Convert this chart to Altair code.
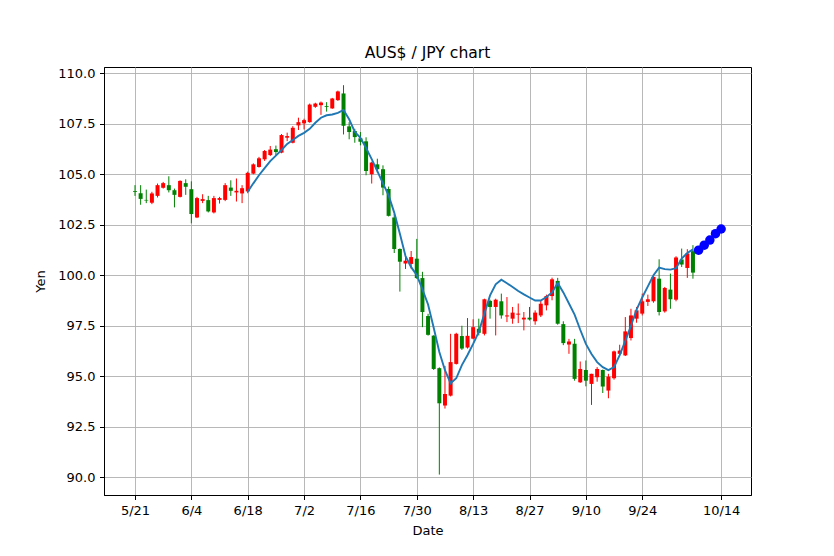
import altair as alt
import pandas as pd

# ---- data ----
opens = [104.16, 104.06, 103.73, 103.59, 103.93, 104.33, 104.46, 104.21, 103.88, 104.56,
         104.26, 102.86, 103.68, 103.72, 103.11, 103.73, 103.73, 104.34, 104.10, 104.05,
         104.15, 105.03, 105.36, 105.74, 105.95, 106.24, 106.07, 106.81, 106.56, 107.42,
         107.52, 107.58, 108.34, 108.42, 108.37, 108.26, 108.67, 109.00, 107.37, 107.14,
         106.78, 106.63, 105.00, 105.49, 105.25, 104.27, 102.86, 101.30, 100.58, 100.56,
         100.82, 99.86, 97.98, 97.01, 95.40, 93.55, 94.04, 95.61, 96.99, 96.42,
         96.86, 97.35, 97.10, 98.73, 98.43, 98.71, 97.96, 97.85, 98.05, 97.81,
         97.90, 97.72, 98.01, 98.51, 98.97, 99.72, 97.58, 96.57, 96.61, 94.70,
         95.31, 94.62, 94.95, 95.31, 94.29, 94.90, 96.11, 96.03, 96.89, 97.85,
         98.10, 98.68, 98.71, 99.83, 98.21, 99.29, 98.79, 100.78, 100.36, 101.19]
highs = [104.46, 104.46, 104.24, 104.13, 104.54, 104.62, 104.90, 104.29, 104.70, 104.75,
         104.65, 103.88, 104.01, 103.93, 103.93, 103.88, 104.56, 104.70, 104.79, 104.46,
         105.13, 105.54, 105.86, 106.20, 106.40, 106.42, 106.99, 107.06, 107.38, 107.80,
         107.75, 108.50, 108.54, 108.60, 108.57, 108.78, 109.14, 109.41, 107.58, 107.25,
         107.09, 106.83, 105.62, 105.77, 105.44, 104.39, 103.03, 101.33, 100.97, 101.20,
         101.80, 100.17, 98.09, 97.03, 95.44, 95.51, 97.10, 97.15, 97.50, 97.88,
         97.82, 97.85, 98.84, 98.79, 98.84, 99.09, 98.92, 98.43, 98.60, 98.18,
         98.43, 98.26, 98.76, 99.04, 99.88, 99.87, 97.72, 96.85, 96.85, 95.73,
         95.78, 95.12, 95.45, 95.33, 95.12, 96.27, 96.56, 97.93, 98.34, 98.43,
         99.09, 99.04, 100.03, 100.79, 99.42, 100.08, 100.94, 101.32, 101.29, 101.49]
lows = [103.93, 103.49, 103.57, 103.52, 103.85, 104.29, 104.10, 103.36, 103.85, 103.98,
        102.57, 102.83, 103.57, 103.11, 103.06, 103.55, 103.67, 103.93, 103.65, 103.57,
        104.06, 105.00, 105.33, 105.66, 105.90, 105.92, 106.04, 106.64, 106.53, 107.19,
        107.22, 107.55, 108.29, 107.94, 108.10, 108.24, 108.63, 106.97, 106.73, 106.56,
        106.43, 104.95, 104.54, 105.08, 103.96, 102.91, 101.10, 99.19, 100.31, 100.33,
        99.82, 97.43, 97.01, 95.31, 90.13, 93.40, 94.00, 95.58, 96.30, 96.37,
        96.83, 97.02, 97.02, 97.85, 97.02, 97.85, 97.68, 97.60, 97.63, 97.27,
        97.76, 97.55, 97.93, 98.26, 98.76, 97.55, 96.54, 96.11, 94.78, 94.67,
        94.50, 93.58, 94.73, 94.17, 93.91, 94.83, 96.03, 96.00, 96.77, 97.65,
        98.01, 98.48, 98.64, 98.01, 98.15, 98.34, 98.71, 100.41, 99.87, 99.83]
closes = [104.12, 103.78, 103.70, 104.05, 104.46, 104.56, 104.21, 103.98, 104.67, 104.38,
          103.03, 103.82, 103.77, 103.16, 103.82, 103.82, 104.46, 104.18, 104.18, 104.31,
          105.07, 105.49, 105.79, 106.15, 106.22, 106.10, 106.94, 106.89, 107.30, 107.58,
          107.68, 108.45, 108.50, 108.55, 108.33, 108.75, 109.10, 107.40, 107.09, 106.84,
          106.61, 105.16, 105.58, 105.25, 104.34, 102.94, 101.30, 100.67, 100.72, 100.90,
          99.86, 98.18, 97.05, 95.36, 93.66, 94.12, 95.70, 97.10, 96.37, 97.00,
          97.43, 97.15, 98.81, 98.43, 98.79, 98.01, 98.01, 98.15, 98.10, 97.90,
          97.81, 98.15, 98.59, 98.97, 99.80, 97.60, 96.64, 96.72, 94.87, 95.36,
          94.78, 95.12, 95.36, 94.49, 94.98, 96.23, 96.27, 97.22, 98.01, 98.26,
          98.71, 98.81, 99.92, 98.18, 99.37, 98.81, 100.88, 100.53, 101.08, 100.13]

ma_start = 20
ma_values = [104.13, 104.55, 104.95, 105.30, 105.65, 105.92, 106.20, 106.50, 106.70, 106.90,
             107.05, 107.25, 107.55, 107.80, 107.92, 107.96, 108.04, 108.18, 107.72, 107.10,
             106.80, 106.30, 105.75, 105.15, 104.55, 103.95, 103.10, 102.05, 100.95, 100.40,
             100.00, 99.30, 98.55, 97.40, 96.20, 95.30, 94.65, 94.90, 95.55, 96.05,
             96.60, 97.20, 98.10, 99.00, 99.55, 99.78, 99.60, 99.42, 99.22, 99.05,
             98.90, 98.75, 98.75, 98.92, 99.15, 99.62, 99.15, 98.60, 98.05, 97.30,
             96.60, 96.10, 95.70, 95.45, 95.30, 95.45, 96.05, 96.75, 97.50, 98.30,
             98.90, 99.45, 100.00, 100.38, 100.30, 100.28, 100.35, 100.83, 101.10, 101.28]

pred_start = 100
pred_values = [101.24, 101.49, 101.74, 102.06, 102.29]

tick_idx = [0, 10, 20, 30, 40, 50, 60, 70, 80, 90, 104]
tick_lab = ["5/21", "6/4", "6/18", "7/2", "7/16", "7/30", "8/13", "8/27", "9/10", "9/24", "10/14"]
y_ticks = [90.0, 92.5, 95.0, 97.5, 100.0, 102.5, 105.0, 107.5, 110.0]

# ---- tables ----
candles = pd.DataFrame({
    "i": list(range(len(opens))),
    "open": opens, "high": highs, "low": lows, "close": closes,
})
candles["dir"] = ["up" if c >= o else "down" for o, c in zip(opens, closes)]
ma = pd.DataFrame({"i": list(range(ma_start, ma_start + len(ma_values))), "ma": ma_values})
pred = pd.DataFrame({"i": list(range(pred_start, pred_start + len(pred_values))), "p": pred_values})

label_expr = "".join(f"datum.value == {v} ? '{l}' : " for v, l in zip(tick_idx, tick_lab)) + "''"

x_scale = alt.Scale(domain=[-5.5, 109.3], nice=False, zero=False, padding=0)
y_scale = alt.Scale(domain=[89.12, 110.31], nice=False, zero=False, padding=0)
x_axis = alt.Axis(values=tick_idx, labelExpr=label_expr, title="Date", grid=True, titlePadding=7)
y_axis = alt.Axis(values=y_ticks, format=".1f", title="Yen", grid=True, titlePadding=10)

color = alt.Color("dir:N", scale=alt.Scale(domain=["up", "down"], range=["red", "green"]), legend=None)

wicks = alt.Chart(candles).mark_rule(strokeWidth=1).encode(
    x=alt.X("i:Q", scale=x_scale, axis=x_axis),
    y=alt.Y("low:Q", scale=y_scale, axis=y_axis),
    y2="high:Q",
    color=color,
)
bodies = alt.Chart(candles).mark_bar(size=4).encode(
    x=alt.X("i:Q", scale=x_scale, axis=x_axis),
    y=alt.Y("open:Q", scale=y_scale, axis=y_axis),
    y2="close:Q",
    color=color,
)
line = alt.Chart(ma).mark_line(color="#1f77b4", strokeWidth=1.9).encode(
    x=alt.X("i:Q", scale=x_scale, axis=x_axis),
    y=alt.Y("ma:Q", scale=y_scale, axis=y_axis),
)
dots = alt.Chart(pred).mark_circle(color="blue", size=90, opacity=1).encode(
    x=alt.X("i:Q", scale=x_scale, axis=x_axis),
    y=alt.Y("p:Q", scale=y_scale, axis=y_axis),
)

chart = alt.layer(wicks, bodies, line, dots).properties(
    width=647,
    height=428,
    title=alt.TitleParams("AUS$ / JPY chart", fontSize=15.6, fontWeight="normal",
                          font="DejaVu Sans", color="black", baseline="alphabetic",
                          offset=8, dy=15),
    autosize=alt.AutoSizeParams(type="none"),
    padding={"left": 104, "top": 67, "right": 83, "bottom": 61},
).configure(
    background="white",
    font="DejaVu Sans",
).configure_view(
    stroke="black", strokeWidth=1,
).configure_axis(
    labelFont="DejaVu Sans", titleFont="DejaVu Sans",
    labelFontSize=13, titleFontSize=13, titleFontWeight="normal",
    labelColor="black", titleColor="black",
    domainColor="black", domainWidth=1,
    tickColor="black", tickSize=4.5, tickWidth=1,
    labelPadding=4.5, titlePadding=5,
    gridColor="#b0b0b0", gridWidth=0.9, labelFlush=False, labelOverlap=False,
)

chart.save("out.html", embed_options={"renderer": "svg", "actions": False})
